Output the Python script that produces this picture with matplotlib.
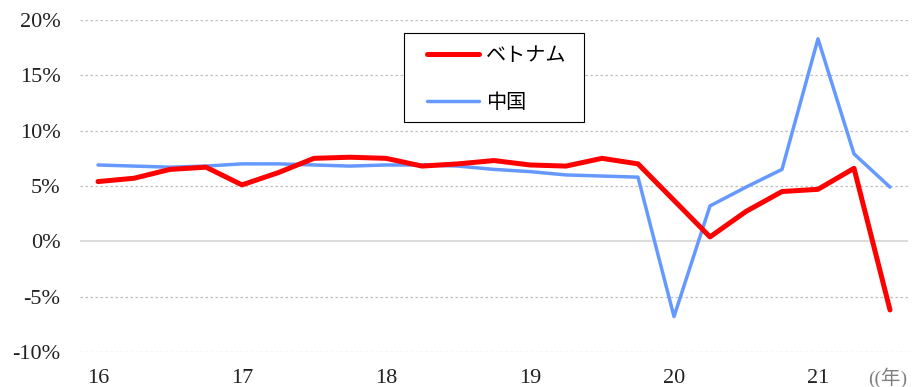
import numpy as np
import matplotlib.pyplot as plt
from matplotlib.patches import Rectangle
from matplotlib.ticker import FuncFormatter

# ---------------------------------------------------------
# DATA: quarterly real GDP growth, y/y (%), 2016Q1 - 2021Q3
# ---------------------------------------------------------
year_labels = ["16", "17", "18", "19", "20", "21"]

vietnam = [5.4, 5.7, 6.5, 6.7, 5.1, 6.2, 7.5, 7.6, 7.5, 6.8, 7.0, 7.3,
           6.9, 6.8, 7.5, 7.0, 3.7, 0.4, 2.7, 4.5, 4.7, 6.6, -6.2]
china = [6.9, 6.8, 6.7, 6.8, 7.0, 7.0, 6.9, 6.8, 6.9, 6.9, 6.8, 6.5,
         6.3, 6.0, 5.9, 5.8, -6.8, 3.2, 4.9, 6.5, 18.3, 7.9, 4.9]

# ---------------------------------------------------------
# PLOT
# ---------------------------------------------------------
W, H = 916, 387
x = np.arange(len(vietnam))

fig = plt.figure(figsize=(W / 100, H / 100), dpi=100)
ax = fig.add_axes([80 / W, 1 - 352 / H, 828 / W, 332 / H])

serif = ["Liberation Serif", "Noto Sans CJK JP"]

for y in range(-10, 25, 5):
    if y == 0:
        ax.axhline(y, color="#d9d9d9", lw=1.3, zorder=1)
    else:
        ax.axhline(y, color="#bfbfbf", lw=0.9, ls=(0, (2, 2)), zorder=1)

ax.plot(x, vietnam, color="#ff0000", lw=3.6, label="ベトナム", zorder=3,
        solid_capstyle="round", solid_joinstyle="round")
ax.plot(x, china, color="#6699ff", lw=2.5, label="中国", zorder=2,
        solid_capstyle="round", solid_joinstyle="round")

ax.set_xlim(-0.5, len(vietnam) - 0.5)
ax.set_ylim(-10, 20)
ax.set_yticks(range(-10, 25, 5))
ax.yaxis.set_major_formatter(FuncFormatter(lambda v, p: f"{v:.0f}%"))
ax.set_xticks(np.arange(0, len(vietnam), 4)[:len(year_labels)])
ax.set_xticklabels(year_labels)

for lab in ax.get_xticklabels() + ax.get_yticklabels():
    lab.set_family(serif)
    lab.set_fontsize(16)
    lab.set_color("#222222")

ax.tick_params(axis="y", length=0, pad=14)
ax.tick_params(axis="x", length=0, pad=12)
for s in ax.spines.values():
    s.set_visible(False)

fig.text(868 / W, 1 - 378 / H, "((年)", family=serif, fontsize=14,
         color="#808080", ha="left", va="center")

# legend box drawn separately so the inner padding can be set freely
ax.add_patch(Rectangle((404 / W, 1 - 122 / H), 180 / W, 89 / H,
                       transform=fig.transFigure, facecolor="white",
                       edgecolor="black", lw=0.8, zorder=4, clip_on=False))
leg = ax.legend(loc="upper left",
                bbox_to_anchor=((427 - 80) / 828, (352 - 45) / 332),
                prop={"family": ["Noto Sans CJK JP"], "size": 14.5},
                frameon=False, handlelength=2.6, borderpad=0,
                labelspacing=1.3, handletextpad=0.35, borderaxespad=0)
leg.set_zorder(5)

fig.savefig("out.png", dpi=100)
